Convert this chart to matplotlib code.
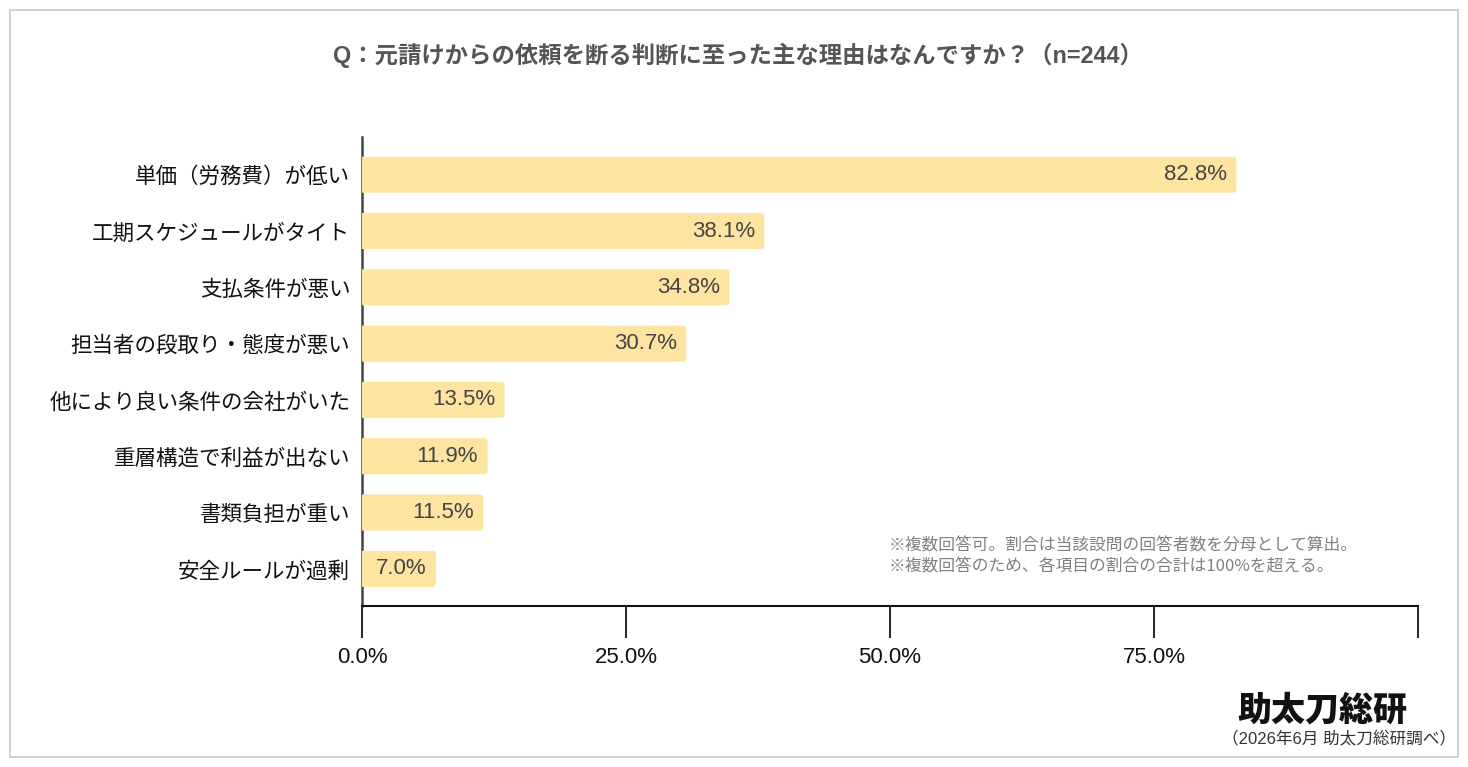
import matplotlib
matplotlib.use("Agg")
import matplotlib.pyplot as plt
from matplotlib.patches import Rectangle, FancyBboxPatch

LATIN_JP = ['Liberation Sans', 'Noto Sans CJK JP', 'DejaVu Sans']
JP = ['Noto Sans CJK JP', 'DejaVu Sans']
plt.rcParams['font.family'] = LATIN_JP

categories = ["単価（労務費）が低い", "工期スケジュールがタイト", "支払条件が悪い",
              "担当者の段取り・態度が悪い", "他により良い条件の会社がいた",
              "重層構造で利益が出ない", "書類負担が重い", "安全ルールが過剰"]
values = [82.8, 38.1, 34.8, 30.7, 13.5, 11.9, 11.5, 7.0]
xticks = [0, 25, 50, 75, 100]
xtick_labels = ["0.0%", "25.0%", "50.0%", "75.0%", ""]
title = "Q：元請けからの依頼を断る判断に至った主な理由はなんですか？（n=244）"
notes = ["※複数回答可。割合は当該設問の回答者数を分母として算出。",
         "※複数回答のため、各項目の割合の合計は100%を超える。"]
logo = "助太刀総研"
source = "（2026年6月 助太刀総研調べ）"

W, H = 1468, 767
fig = plt.figure(figsize=(W / 100, H / 100), dpi=100)
fig.patch.set_facecolor("white")

# outer border
fig.patches.append(Rectangle((10 / W, 10 / H), 1448 / W, 747 / H, transform=fig.transFigure,
                             fill=False, edgecolor="#c8c8c8", linewidth=1.2))

ax_l, ax_r, ax_t, ax_b = 362, 1418, 137, 606
ax = fig.add_axes([ax_l / W, 1 - ax_b / H, (ax_r - ax_l) / W, (ax_b - ax_t) / H])
ax.set_ylim(7.66, -0.67)
ax.set_xlim(0, 100)
y = list(range(len(categories)))
bars = ax.barh(y, values, height=0.64, color="#FDE5A1", zorder=3)

# round the bar corners slightly (left side is clipped by the axes)
px_x = (ax_r - ax_l) / 100.0
px_y = (ax_b - ax_t) / (7.66 + 0.67)
r_px = 3.5
for b in bars:
    x0, y0, w, h = b.get_x(), b.get_y(), b.get_width(), b.get_height()
    p = FancyBboxPatch((x0 - 1.0, y0), w + 1.0, h,
                       boxstyle=f"round,pad=0,rounding_size={r_px / px_x}",
                       mutation_aspect=px_x / px_y,
                       facecolor=b.get_facecolor(), edgecolor="none", zorder=3)
    ax.add_patch(p)
    b.set_visible(False)

for yi, v in zip(y, values):
    ax.text(v - 0.9, yi, f"{v:.1f}%", ha="right", va="center", fontsize=16,
            color="#444444", zorder=4)

ax.set_yticks(y)
ax.set_yticklabels(categories, fontsize=15.5, color="#111111", family=JP)
ax.tick_params(axis="y", length=0, pad=8.5)
ax.set_xticks(xticks)
ax.set_xticklabels(xtick_labels, fontsize=16, color="#111111")
ax.tick_params(axis="x", length=23, width=1.3, color="#111111", pad=6.5)

for s in ["top", "right"]:
    ax.spines[s].set_visible(False)
ax.spines["left"].set_color("#444444")
ax.spines["left"].set_linewidth(1.8)
ax.spines["left"].set_zorder(2)
ax.spines["bottom"].set_color("#111111")
ax.spines["bottom"].set_linewidth(1.5)

fig.text(738 / W, 1 - 55 / H, title, ha="center", va="center", fontsize=16.8,
         fontweight="bold", color="#555555")

fig.text(889 / W, 1 - 546 / H, notes[0], ha="left", va="center", fontsize=12.1,
         color="#808080", family=JP)
fig.text(889 / W, 1 - 567 / H, notes[1], ha="left", va="center", fontsize=12.1,
         color="#808080", family=JP)

fig.text(1322 / W, 1 - 710 / H, logo, ha="center", va="center", fontsize=24.5,
         fontweight="heavy", style="italic", color="#111111", family=JP)
fig.text(1456 / W, 1 - 738 / H, source, ha="right", va="center", fontsize=12,
         color="#333333")

fig.savefig("out.png", dpi=100, facecolor="white")
